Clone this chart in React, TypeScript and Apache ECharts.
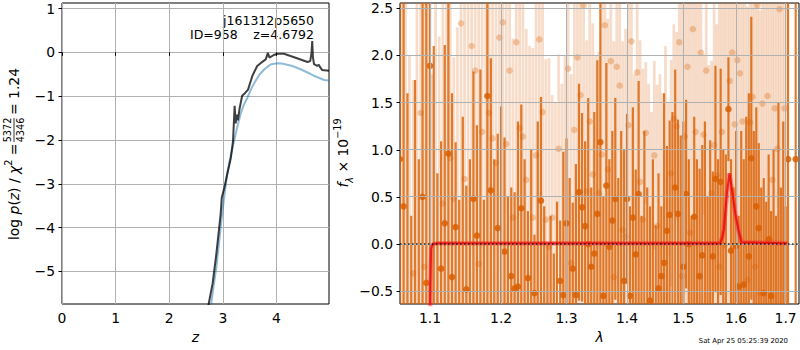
import { useEffect, useRef } from 'react';
import * as echarts from 'echarts';

const FONT = 'DejaVu Sans';

// ---------- left panel: log p(z) ----------
const pzZ = [2.70, 2.735, 2.81, 2.88, 2.96, 2.98, 3.03, 3.15, 3.19, 3.22, 3.24, 3.26, 3.28, 3.31, 3.36, 3.42, 3.47, 3.55, 3.64, 3.71, 3.80, 3.84, 3.87, 3.95, 4.02, 4.14, 4.33, 4.58, 4.63, 4.655, 4.667, 4.68, 4.70, 4.76, 4.79, 4.81, 4.85, 4.98];
const pzLog = [-6.0, -5.75, -5.27, -4.59, -3.68, -3.32, -3.08, -2.40, -2.02, -1.22, -1.62, -1.42, -1.55, -1.30, -0.99, -0.92, -0.85, -0.54, -0.31, -0.24, -0.16, -0.01, -0.12, -0.06, -0.03, -0.03, -0.11, -0.22, -0.20, 0.0, 0.26, -0.1, -0.27, -0.31, -0.28, -0.33, -0.40, -0.42];
const chiZ = [2.74, 2.78, 2.88, 2.96, 3.00, 3.08, 3.14, 3.21, 3.27, 3.33, 3.39, 3.46, 3.53, 3.61, 3.69, 3.77, 3.84, 3.90, 4.02, 4.10, 4.20, 4.30, 4.46, 4.60, 4.71, 4.89, 4.98];
const chiLog = [-6.0, -5.75, -4.9, -3.99, -3.55, -2.77, -2.40, -2.02, -1.70, -1.41, -1.20, -1.03, -0.83, -0.65, -0.50, -0.39, -0.32, -0.27, -0.25, -0.255, -0.28, -0.31, -0.39, -0.47, -0.54, -0.63, -0.64];

const zTicks = [0, 1, 2, 3, 4];
const logPTicks = [-5, -4, -3, -2, -1, 0, 1];
const lamTicks = [1.1, 1.2, 1.3, 1.4, 1.5, 1.6, 1.7];
const fluxTicks = [-0.5, 0, 0.5, 1, 1.5, 2, 2.5];

// ---------- right panel: spectrum ----------
const darkLam = [
  1.060, 1.065, 1.070, 1.075, 1.080, 1.085, 1.090, 1.095, 1.100, 1.105,
  1.110, 1.115, 1.120, 1.125, 1.130, 1.135, 1.140, 1.145, 1.150, 1.155,
  1.160, 1.165, 1.170, 1.175, 1.180, 1.185, 1.190, 1.195, 1.200, 1.205,
  1.210, 1.215, 1.220, 1.225, 1.230, 1.235, 1.240, 1.245, 1.250, 1.255,
  1.260, 1.265, 1.270, 1.275, 1.280, 1.285, 1.290, 1.295, 1.300, 1.305,
  1.310, 1.315, 1.320, 1.325, 1.330, 1.335, 1.340, 1.345, 1.350, 1.355,
  1.360, 1.365, 1.370, 1.375, 1.380, 1.385, 1.390, 1.395, 1.400, 1.405,
  1.410, 1.415, 1.420, 1.425, 1.430, 1.435, 1.440, 1.445, 1.450, 1.455,
  1.460, 1.465, 1.470, 1.475, 1.480, 1.485, 1.490, 1.495, 1.500, 1.505,
  1.510, 1.515, 1.520, 1.525, 1.530, 1.535, 1.540, 1.545, 1.550, 1.555,
  1.560, 1.565, 1.570, 1.575, 1.580, 1.585, 1.590, 1.595, 1.600, 1.605,
  1.610, 1.615, 1.620, 1.625, 1.630, 1.635, 1.640, 1.645, 1.650, 1.655,
  1.660, 1.665, 1.670, 1.675, 1.680, 1.685, 1.690, 1.695, 1.700, 1.705,
  1.721,
];
const darkFlux = [
  0.9, 0.4, -0.9, -1.0, -0.9, -0.9, 0.5, -0.41, 1.89, -0.9,
  -0.7, -0.26, 0.22, 0.96, -0.35, 0.18, -0.9, -0.8, -0.48, -1.0,
  0.48, 0.09, -0.8, -1.0, 1.57, 0.57, -0.9, 0.17, -0.9, -0.08,
  -0.95, -0.34, -0.47, -0.45, 0.38, -0.9, -0.36, -0.8, -0.52, -0.8,
  0.46, -1.0, -0.9, -0.8, -1.0, -0.9, -0.39, -0.54, 0.22, -0.9,
  -0.26, -0.54, 0.55, 0.39, 0.19, 0.0, -0.24, -0.1, 0.32, 1.08,
  -0.55, 0.62, -0.03, 0.25, 0.48, -0.9, -0.7, -0.39, 0.48, -0.55,
  0.28, -0.11, 0.53, -0.9, -0.8, -1.0, -0.6, -0.8, -0.95, -0.47,
  -0.34, -0.2, 0.14, 0.31, -0.7, 0.6, 0.32, -0.8, -0.24, 0.53,
  0.0, -0.9, 0.29, -0.8, -0.34, -0.12, -0.7, -0.9, -0.8, -0.13,
  0.69, -0.8, 0.66, -0.9, -0.8, 1.43, -0.07, -0.9, -0.02, -0.45,
  -0.8, -0.43, -0.7, -0.13, 0.91, -0.9, 0.40, 0.17, -0.9, -0.52,
  -1.0, 0.05, -0.55, -0.8, -0.9, -0.7, -0.95, -0.8, -0.9, 0.9,
  0.9,
];
const darkErr = [
  2.5, 3.0, 2.5, 1.3, 2.64, 1.8, 3.0, 3.1, 2.6, 3.0,
  1.45, 1.35, 1.89, 1.7, 1.95, 0.9, 1.37, 2.15, 1.1, 1.9,
  1.35, 1.17, 2.65, 1.47, 2.3, 1.4, 1.8, 1.0, 2.36, 1.21,
  1.45, 0.94, 1.02, 1.75, 1.1, 1.8, 0.71, 1.8, 0.62, 2.1,
  1.1, 1.4, 0.9, 1.1, 0.9, 1.35, 0.64, 1.52, 0.9, 1.6,
  0.7, 1.39, 1.15, 1.0, 0.9, 1.55, 0.84, 1.5, 1.63, 1.75,
  1.05, 1.3, 0.93, 0.95, 1.07, 1.6, 1.9, 1.39, 0.9, 0.95,
  1.17, 0.9, 1.2, 1.2, 2.0, 1.6, 1.0, 1.7, 1.15, 1.22,
  0.74, 1.8, 0.9, 1.0, 2.1, 1.25, 1.0, 1.95, 1.54, 1.0,
  0.9, 1.2, 1.06, 1.7, 1.14, 1.17, 2.0, 1.4, 1.9, 0.9,
  1.2, 1.7, 1.2, 1.9, 1.75, 0.55, 0.97, 1.5, 1.22, 0.75,
  2.0, 1.33, 2.05, 1.73, 1.5, 2.1, 1.05, 0.9, 1.5, 1.22,
  1.45, 0.9, 0.9, 1.8, 1.2, 2.2, 1.55, 2.1, 1.3, 2.0,
  2.5,
];

const lightLam = [
  1.0625, 1.0675, 1.0725, 1.0775, 1.0825, 1.0875, 1.0925, 1.0975, 1.1025, 1.1075,
  1.1125, 1.1175, 1.1225, 1.1275, 1.1325, 1.1375, 1.1425, 1.1475, 1.1525, 1.1575,
  1.1625, 1.1675, 1.1725, 1.1775, 1.1825, 1.1875, 1.1925, 1.1975, 1.2025, 1.2075,
  1.2125, 1.2175, 1.2225, 1.2275, 1.2325, 1.2375, 1.2425, 1.2475, 1.2525, 1.2575,
  1.2625, 1.2675, 1.2725, 1.2775, 1.2825, 1.2875, 1.2925, 1.2975, 1.3025, 1.3075,
  1.3125, 1.3175, 1.3225, 1.3275, 1.3325, 1.3375, 1.3425, 1.3475, 1.3525, 1.3575,
  1.3625, 1.3675, 1.3725, 1.3775, 1.3825, 1.3875, 1.3925, 1.3975, 1.4025, 1.4075,
  1.4125, 1.4175, 1.4225, 1.4275, 1.4325, 1.4375, 1.4425, 1.4475, 1.4525, 1.4575,
  1.4625, 1.4675, 1.4725, 1.4775, 1.4825, 1.4875, 1.4925, 1.4975, 1.5025, 1.5075,
  1.5125, 1.5175, 1.5225, 1.5275, 1.5325, 1.5375, 1.5425, 1.5475, 1.5525, 1.5575,
  1.5625, 1.5675, 1.5725, 1.5775, 1.5825, 1.5875, 1.5925, 1.5975, 1.6025, 1.6075,
  1.6125, 1.6175, 1.6225, 1.6275, 1.6325, 1.6375, 1.6425, 1.6475, 1.6525, 1.6575,
  1.6625, 1.6675, 1.6725, 1.6775, 1.6825, 1.6875, 1.6925, 1.6975, 1.7025,
];
const lightFlux = [
  -0.8, 2.8, -0.9, -0.31, 2.9, 1.39, -0.24, 2.9, -0.8, 2.8,
  -0.9, 0.43, 2.9, 0.91, 0.48, -0.8, 2.34, 0.69, 2.8, 2.10,
  1.84, -0.21, 1.19, 2.9, 1.39, 1.12, 0.86, 2.19, 2.35, 1.06,
  1.84, 0.28, 2.14, 1.23, 1.14, 0.68, -0.8, 0.28, 0.94, 2.17,
  1.40, 0.26, -0.03, 0.28, -0.8, 1.01, -0.9, -0.8, 1.86, -0.2,
  1.21, 1.98, 1.58, 2.53, 0.56, 1.30, 0.74, -0.8, 0.54, 0.95,
  2.32, 0.79, 1.94, -0.35, 1.88, 1.68, 0.15, 0.08, 1.26, 2.15,
  -0.8, 1.82, 0.66, 0.26, 1.18, -0.8, -0.9, 0.94, 0.19, -0.8,
  -0.9, -0.8, -0.9, 0.75, 1.33, 1.25, 2.14, -0.34, 1.14, 1.88,
  0.12, 2.28, 1.19, 2.9, 2.03, 1.16, 1.84, -0.8, 0.54, 1.05,
  0.73, -0.24, 1.19, -0.01, 2.8, 1.73, 2.03, 1.27, 1.95, 1.81,
  1.30, 2.9, -0.38, 1.29, 1.56, -0.24, 2.53, -0.52, 1.49, 2.8,
  1.57, 0.05, 0.68, 1.44, 1.01, 2.49, -0.8, 1.44, 2.8,
];
const lightErr = [
  3.5, 3.6, 2.9, 2.05, 3.7, 2.3, 3.0, 3.7, 2.6, 3.6,
  3.1, 2.4, 3.7, 2.0, 1.5, 3.1, 3.0, 2.2, 3.6, 2.9,
  2.6, 2.8, 2.0, 3.7, 2.2, 2.0, 1.8, 2.9, 3.1, 1.7,
  2.6, 1.9, 2.9, 2.0, 1.75, 1.6, 2.9, 1.8, 1.8, 2.9,
  2.1, 1.7, 2.0, 1.3, 2.3, 1.0, 2.6, 2.8, 2.6, 2.0,
  2.0, 2.7, 2.3, 3.2, 1.6, 2.1, 1.6, 2.8, 1.5, 1.7,
  3.0, 1.6, 2.7, 2.5, 2.6, 2.4, 2.0, 2.2, 2.0, 2.9,
  2.6, 2.5, 1.5, 1.6, 0.75, 2.5, 2.3, 1.0, 1.5, 2.6,
  2.5, 2.9, 2.4, 1.2, 1.0, 1.0, 2.9, 2.9, 1.9, 2.6,
  2.6, 3.0, 2.0, 3.7, 2.8, 0.85, 2.6, 2.7, 1.4, 2.0,
  1.6, 2.9, 2.0, 2.7, 3.6, 2.4, 2.8, 2.0, 2.6, 2.5,
  2.0, 3.7, 2.9, 2.0, 2.3, 2.9, 3.2, 3.0, 2.2, 3.6,
  2.3, 2.6, 2.0, 2.2, 2.0, 3.2, 3.5, 2.2, 3.6,
];

const modelLam = [1.0995, 1.1005, 1.1015, 1.103, 1.106, 1.110, 1.569, 1.5725, 1.576, 1.5795, 1.5825, 1.587, 1.5925, 1.5985, 1.6045, 1.6105, 1.703];
const modelFlux = [-1.2, -0.45, -0.05, -0.01, 0.005, 0.008, 0.01, 0.06, 0.15, 0.38, 0.56, 0.75, 0.55, 0.32, 0.15, 0.02, 0.01];

// axis limits
const zMin = 0, zMax = 4.98, pMin = -5.746, pMax = 1.128;
const lamMin = 1.0603, lamMax = 1.728, fMin = -0.635, fMax = 2.556;

const fmt = (v: number, d: number) => Number(v).toFixed(d).replace('-', '\u2212');

function errorbars(width: number, barColor: string, dotColor: string, r: number) {
  return (_params: any, api: any) => {
    const lam = api.value(0);
    const f = api.value(1);
    const e = api.value(2);
    const top = api.coord([lam, f + e]);
    const bot = api.coord([lam, f - e]);
    const c = api.coord([lam, f]);
    return {
      type: 'group',
      children: [
        { type: 'rect', shape: { x: top[0] - width / 2, y: top[1], width, height: bot[1] - top[1] }, style: { fill: barColor } },
        { type: 'circle', shape: { cx: c[0], cy: c[1], r }, style: { fill: dotColor } },
      ],
    };
  };
}

// right-panel grid lines drawn above the error bars
function vGrid(color: string) {
  return (params: any, api: any) => {
    const cs = params.coordSys;
    const x = Math.floor(api.coord([api.value(0), api.value(1)])[0]);
    return { type: 'rect', shape: { x, y: cs.y, width: 1, height: cs.height }, style: { fill: color } };
  };
}
function hGrid(color: string) {
  return (params: any, api: any) => {
    const cs = params.coordSys;
    const y = Math.floor(api.coord([api.value(0), api.value(1)])[1]);
    return { type: 'rect', shape: { x: cs.x, y, width: cs.width, height: 1 }, style: { fill: color } };
  };
}

const tickStyle = { show: true, length: 3.5, inside: false, lineStyle: { color: '#000', width: 1 } };
const labelBase = { color: '#000', fontSize: 13.9, fontFamily: FONT };
const gridLine = { show: true, lineStyle: { color: '#b0b0b0', width: 1, type: 'solid' } };

export default function App() {
  const ref = useRef<HTMLDivElement>(null);
  useEffect(() => {
    if (!ref.current) return;
    const chart = echarts.init(ref.current, undefined, { renderer: 'svg' });
    const option: any = {
      animation: false,
      textStyle: { fontFamily: FONT },
      grid: [
        { left: 62, top: 3, width: 267, height: 301, show: true, borderColor: '#000', borderWidth: 1, backgroundColor: 'rgba(0,0,0,0)' },
        { left: 400, top: 3, width: 399, height: 301, show: true, borderColor: '#000', borderWidth: 1, backgroundColor: 'rgba(0,0,0,0)' },
      ],
      xAxis: [
        {
          type: 'value', gridIndex: 0, min: zMin, max: zMax,
          axisLine: { show: false }, splitLine: gridLine,
          axisTick: { ...tickStyle, customValues: zTicks },
          axisLabel: { ...labelBase, margin: 7, customValues: zTicks, formatter: (v: number) => fmt(v, 0) },
          name: 'z', nameLocation: 'middle', nameGap: 26,
          nameTextStyle: { fontSize: 13.9, fontStyle: 'italic', color: '#000', fontFamily: FONT },
        },
        {
          type: 'log', gridIndex: 1, min: lamMin, max: lamMax, logBase: 10,
          axisLine: { show: false }, splitLine: { show: false },
          axisTick: { ...tickStyle, customValues: lamTicks },
          axisLabel: { ...labelBase, margin: 7, customValues: lamTicks, formatter: (v: number) => fmt(v, 1) },
          name: 'λ', nameLocation: 'middle', nameGap: 26,
          nameTextStyle: { fontSize: 13.9, fontStyle: 'italic', color: '#000', fontFamily: FONT },
        },
      ],
      yAxis: [
        {
          type: 'value', gridIndex: 0, min: pMin, max: pMax,
          axisLine: { show: false }, splitLine: gridLine,
          axisTick: { ...tickStyle, customValues: logPTicks },
          axisLabel: { ...labelBase, margin: 7, customValues: logPTicks, formatter: (v: number) => fmt(v, 0) },
        },
        {
          type: 'value', gridIndex: 1, min: fMin, max: fMax,
          axisLine: { show: false }, splitLine: { show: false },
          axisTick: { ...tickStyle, customValues: fluxTicks },
          axisLabel: { ...labelBase, margin: 7, customValues: fluxTicks, formatter: (v: number) => fmt(v, 1) },
        },
      ],
      series: [
        {
          type: 'line', xAxisIndex: 0, yAxisIndex: 0, z: 5, showSymbol: false, silent: true,
          data: chiZ.map((z, i) => [z, chiLog[i]]),
          lineStyle: { color: 'rgba(31,119,180,0.5)', width: 2 },
        },
        {
          type: 'line', xAxisIndex: 0, yAxisIndex: 0, z: 6, showSymbol: false, silent: true,
          data: pzZ.map((z, i) => [z, pzLog[i]]),
          lineStyle: { color: 'rgba(0,0,0,0.75)', width: 2 },
        },
        // right panel
        {
          type: 'custom', xAxisIndex: 1, yAxisIndex: 1, z: 2, clip: true, silent: true,
          data: lightLam.map((l, i) => [l, lightFlux[i], lightErr[i]]),
          encode: { x: 0, y: 1 },
          renderItem: errorbars(2.8, 'rgba(217,95,2,0.21)', 'rgba(217,95,2,0.3)', 3.3),
        },
        {
          type: 'custom', xAxisIndex: 1, yAxisIndex: 1, z: 3, clip: true, silent: true,
          data: darkLam.map((l, i) => [l, darkFlux[i], darkErr[i]]),
          encode: { x: 0, y: 1 },
          renderItem: errorbars(2.2, 'rgba(217,95,2,0.82)', 'rgba(217,95,2,0.85)', 3.3),
        },
        { type: 'custom', xAxisIndex: 1, yAxisIndex: 1, z: 4, silent: true, data: lamTicks.map((v) => [v, 1]), renderItem: vGrid('#b0b0b0') },
        { type: 'custom', xAxisIndex: 1, yAxisIndex: 1, z: 4, silent: true, data: fluxTicks.map((v) => [1.3, v]), renderItem: hGrid('#b0b0b0') },
        {
          type: 'line', xAxisIndex: 1, yAxisIndex: 1, z: 5, showSymbol: false, silent: true,
          data: modelLam.map((l, i) => [l, modelFlux[i]]),
          lineStyle: { color: 'rgba(255,50,50,0.5)', width: 4.5 },
        },
        {
          type: 'line', xAxisIndex: 1, yAxisIndex: 1, z: 6, showSymbol: false, silent: true,
          data: modelLam.map((l, i) => [l, modelFlux[i]]),
          lineStyle: { color: 'rgba(230,0,0,0.75)', width: 2 },
        },
        {
          type: 'line', xAxisIndex: 1, yAxisIndex: 1, z: 7, showSymbol: false, silent: true,
          data: [[lamMin, 0], [lamMax, 0]],
          lineStyle: { color: 'rgba(0,0,0,0.8)', width: 1.5, type: [1.5, 2.5] },
        },
      ],
      graphic: [
        {
          type: 'group', x: 14, y: 154, rotation: Math.PI / 2,
          children: [
            {
              type: 'text', x: -86, y: 0,
              style: {
                text: 'log {i|p}({i|z}) / {i|χ}{sup|2} =',
                fontSize: 13.9, fontFamily: FONT, fill: '#000', align: 'left', verticalAlign: 'middle', lineHeight: 22,
                rich: {
                  i: { fontStyle: 'italic', fontSize: 13.9, fontFamily: FONT, lineHeight: 22 },
                  sup: { fontSize: 9.7, fontFamily: FONT, lineHeight: 12, verticalAlign: 'top' },
                },
              },
            },
            { type: 'text', x: 24, y: -6.5, style: { text: '5372', fontSize: 9.7, fontFamily: FONT, fill: '#000', align: 'center', verticalAlign: 'middle' } },
            { type: 'rect', shape: { x: 12, y: -0.4, width: 24, height: 0.8 }, style: { fill: '#000' } },
            { type: 'text', x: 24, y: 6.5, style: { text: '4346', fontSize: 9.7, fontFamily: FONT, fill: '#000', align: 'center', verticalAlign: 'middle' } },
            { type: 'text', x: 86, y: 0, style: { text: '= 1.24', fontSize: 13.9, fontFamily: FONT, fill: '#000', align: 'right', verticalAlign: 'middle' } },
          ],
        },
        {
          type: 'group', x: 343, y: 153, rotation: Math.PI / 2,
          children: [
            {
              type: 'text', x: 0, y: 0,
              style: {
                text: '{i|f}{sub|λ} × 10{sup|−19}',
                fontSize: 13.9, fontFamily: FONT, fill: '#000', align: 'center', verticalAlign: 'middle', lineHeight: 22,
                rich: {
                  i: { fontStyle: 'italic', fontSize: 13.9, fontFamily: FONT, lineHeight: 22 },
                  sub: { fontStyle: 'italic', fontSize: 9.7, fontFamily: FONT, lineHeight: 16, verticalAlign: 'bottom' },
                  sup: { fontSize: 9.7, fontFamily: FONT, lineHeight: 12, verticalAlign: 'top' },
                },
              },
            },
          ],
        },
        { type: 'text', x: 314, y: 20, style: { text: 'j161312p5650', fontSize: 12.5, fontFamily: FONT, fill: '#000', align: 'right', verticalAlign: 'middle' } },
        { type: 'text', x: 190, y: 34.5, style: { text: 'ID=958', fontSize: 12.5, fontFamily: FONT, fill: '#000', align: 'left', verticalAlign: 'middle' } },
        { type: 'text', x: 314, y: 34.5, style: { text: 'z=4.6792', fontSize: 12.5, fontFamily: FONT, fill: '#000', align: 'right', verticalAlign: 'middle' } },
        { type: 'text', x: 788, y: 340.5, style: { text: 'Sat Apr 25 05:25:39 2020', fontSize: 6.9, fontFamily: FONT, fill: '#000', align: 'right', verticalAlign: 'middle' } },
      ],
    };
    chart.setOption(option);
    return () => chart.dispose();
  }, []);
  return <div ref={ref} style={{ position: 'absolute', left: 0, top: 0, width: 800, height: 350 }} />;
}
